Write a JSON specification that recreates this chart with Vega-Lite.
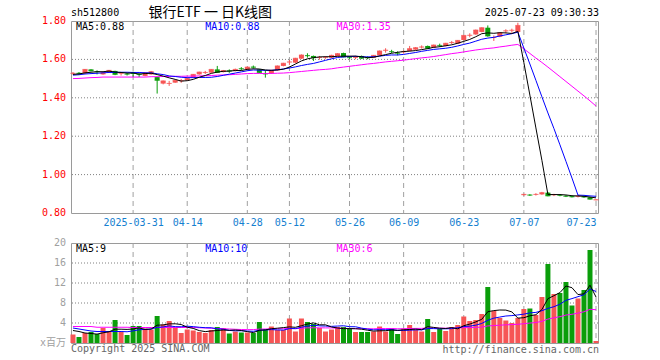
{
"$schema": "https://vega.github.io/schema/vega-lite/v6.json",
"padding": {"left": 39, "top": 5, "right": 0, "bottom": 0},
"background": "white",
"spacing": 9,
"config": {
 "view": {"stroke": "#9a9a9a", "strokeWidth": 1},
 "axis": {"domain": false, "ticks": false, "grid": false, "labelFont": "DejaVu Sans Mono", "labelFontSize": 10, "labelOverlap": false, "labelAngle": 0, "labelPadding": 4}
},
"datasets": {
"grid_dates": [{"d":"2025-03-31"},{"d":"2025-04-14"},{"d":"2025-04-28"},{"d":"2025-05-12"},{"d":"2025-05-26"},{"d":"2025-06-09"},{"d":"2025-06-23"},{"d":"2025-07-07"},{"d":"2025-07-23"}],
"price_ticks": [{"p":0.8,"g":0},{"p":1.0,"g":1},{"p":1.2,"g":1},{"p":1.4,"g":1},{"p":1.6,"g":1},{"p":1.8,"g":0}],
"vol_ticks": [{"p":0,"s":"x百万","g":0},{"p":4,"s":"4","g":1},{"p":8,"s":"8","g":1},{"p":12,"s":"12","g":1},{"p":16,"s":"16","g":1},{"p":20,"s":"20","g":0}],
"k": [
{"d":"2025-03-17","o":1.526,"h":1.534,"l":1.520,"c":1.528,"v":1.7,"m5":1.522,"m10":1.518,"m30":1.500,"w5":2.5,"w10":3.0,"w30":3.3},
{"d":"2025-03-18","o":1.530,"h":1.534,"l":1.522,"c":1.527,"v":1.2,"m5":1.524,"m10":1.520,"m30":1.501,"w5":2.3,"w10":2.8,"w30":3.3},
{"d":"2025-03-19","o":1.527,"h":1.550,"l":1.525,"c":1.548,"v":2.0,"m5":1.530,"m10":1.524,"m30":1.503,"w5":2.0,"w10":2.6,"w30":3.3},
{"d":"2025-03-20","o":1.548,"h":1.549,"l":1.538,"c":1.540,"v":2.2,"m5":1.533,"m10":1.526,"m30":1.505,"w5":1.9,"w10":2.4,"w30":3.3},
{"d":"2025-03-21","o":1.537,"h":1.543,"l":1.522,"c":1.535,"v":1.8,"m5":1.536,"m10":1.528,"m30":1.506,"w5":1.78,"w10":2.3,"w30":3.15},
{"d":"2025-03-24","o":1.522,"h":1.533,"l":1.520,"c":1.531,"v":3.0,"m5":1.536,"m10":1.530,"m30":1.508,"w5":2.04,"w10":2.3,"w30":3.15},
{"d":"2025-03-25","o":1.531,"h":1.545,"l":1.530,"c":1.543,"v":2.2,"m5":1.539,"m10":1.532,"m30":1.508,"w5":2.24,"w10":2.3,"w30":3.15},
{"d":"2025-03-26","o":1.540,"h":1.541,"l":1.518,"c":1.522,"v":4.6,"m5":1.534,"m10":1.532,"m30":1.508,"w5":2.76,"w10":2.3,"w30":3.15},
{"d":"2025-03-27","o":1.526,"h":1.534,"l":1.516,"c":1.528,"v":2.2,"m5":1.532,"m10":1.533,"m30":1.508,"w5":2.76,"w10":2.3,"w30":3.15},
{"d":"2025-03-28","o":1.526,"h":1.530,"l":1.516,"c":1.523,"v":1.6,"m5":1.529,"m10":1.533,"m30":1.508,"w5":2.72,"w10":2.25,"w30":3.15},
{"d":"2025-03-31","o":1.534,"h":1.536,"l":1.508,"c":1.527,"v":3.4,"m5":1.529,"m10":1.532,"m30":1.508,"w5":2.80,"w10":2.42,"w30":3.1},
{"d":"2025-04-01","o":1.524,"h":1.528,"l":1.508,"c":1.521,"v":3.4,"m5":1.524,"m10":1.532,"m30":1.508,"w5":3.04,"w10":2.64,"w30":3.1},
{"d":"2025-04-02","o":1.514,"h":1.533,"l":1.512,"c":1.531,"v":2.9,"m5":1.526,"m10":1.530,"m30":1.508,"w5":2.70,"w10":2.73,"w30":3.1},
{"d":"2025-04-03","o":1.522,"h":1.540,"l":1.520,"c":1.536,"v":2.7,"m5":1.528,"m10":1.530,"m30":1.510,"w5":2.80,"w10":2.78,"w30":3.1},
{"d":"2025-04-07","o":1.508,"h":1.510,"l":1.422,"c":1.491,"v":5.4,"m5":1.521,"m10":1.525,"m30":1.510,"w5":3.56,"w10":3.14,"w30":3.1},
{"d":"2025-04-08","o":1.474,"h":1.490,"l":1.470,"c":1.488,"v":3.7,"m5":1.513,"m10":1.521,"m30":1.511,"w5":3.62,"w10":3.21,"w30":3.1},
{"d":"2025-04-09","o":1.473,"h":1.488,"l":1.462,"c":1.475,"v":4.4,"m5":1.504,"m10":1.514,"m30":1.511,"w5":3.82,"w10":3.43,"w30":3.1},
{"d":"2025-04-10","o":1.479,"h":1.493,"l":1.478,"c":1.491,"v":3.0,"m5":1.496,"m10":1.511,"m30":1.512,"w5":3.84,"w10":3.27,"w30":3.1},
{"d":"2025-04-11","o":1.487,"h":1.498,"l":1.478,"c":1.489,"v":2.0,"m5":1.487,"m10":1.507,"m30":1.512,"w5":3.70,"w10":3.25,"w30":3.1},
{"d":"2025-04-14","o":1.491,"h":1.503,"l":1.490,"c":1.501,"v":2.7,"m5":1.489,"m10":1.505,"m30":1.513,"w5":3.16,"w10":3.36,"w30":3.1},
{"d":"2025-04-15","o":1.505,"h":1.524,"l":1.503,"c":1.522,"v":2.5,"m5":1.496,"m10":1.505,"m30":1.513,"w5":2.92,"w10":3.27,"w30":3.1},
{"d":"2025-04-16","o":1.522,"h":1.536,"l":1.520,"c":1.534,"v":2.2,"m5":1.507,"m10":1.506,"m30":1.514,"w5":2.48,"w10":3.15,"w30":3.05},
{"d":"2025-04-17","o":1.530,"h":1.540,"l":1.524,"c":1.532,"v":2.0,"m5":1.516,"m10":1.506,"m30":1.515,"w5":2.28,"w10":3.06,"w30":3.0},
{"d":"2025-04-18","o":1.531,"h":1.550,"l":1.530,"c":1.548,"v":2.6,"m5":1.527,"m10":1.507,"m30":1.516,"w5":2.40,"w10":3.05,"w30":2.95},
{"d":"2025-04-21","o":1.548,"h":1.566,"l":1.530,"c":1.532,"v":3.2,"m5":1.534,"m10":1.511,"m30":1.518,"w5":2.50,"w10":2.83,"w30":2.9},
{"d":"2025-04-22","o":1.534,"h":1.545,"l":1.532,"c":1.542,"v":3.0,"m5":1.538,"m10":1.517,"m30":1.519,"w5":2.60,"w10":2.76,"w30":2.85},
{"d":"2025-04-23","o":1.542,"h":1.548,"l":1.530,"c":1.539,"v":1.9,"m5":1.539,"m10":1.523,"m30":1.520,"w5":2.54,"w10":2.51,"w30":2.8},
{"d":"2025-04-24","o":1.540,"h":1.552,"l":1.537,"c":1.548,"v":2.3,"m5":1.542,"m10":1.529,"m30":1.522,"w5":2.60,"w10":2.44,"w30":2.75},
{"d":"2025-04-25","o":1.553,"h":1.560,"l":1.543,"c":1.551,"v":2.1,"m5":1.542,"m10":1.535,"m30":1.524,"w5":2.50,"w10":2.45,"w30":2.7},
{"d":"2025-04-28","o":1.548,"h":1.562,"l":1.546,"c":1.560,"v":2.1,"m5":1.548,"m10":1.541,"m30":1.526,"w5":2.28,"w10":2.39,"w30":2.67},
{"d":"2025-04-29","o":1.562,"h":1.568,"l":1.552,"c":1.559,"v":2.0,"m5":1.551,"m10":1.545,"m30":1.527,"w5":2.08,"w10":2.34,"w30":2.68},
{"d":"2025-04-30","o":1.548,"h":1.550,"l":1.528,"c":1.531,"v":4.2,"m5":1.550,"m10":1.544,"m30":1.527,"w5":2.54,"w10":2.54,"w30":2.78},
{"d":"2025-05-06","o":1.527,"h":1.543,"l":1.505,"c":1.524,"v":2.7,"m5":1.545,"m10":1.543,"m30":1.526,"w5":2.62,"w10":2.61,"w30":2.80},
{"d":"2025-05-07","o":1.527,"h":1.546,"l":1.525,"c":1.543,"v":3.3,"m5":1.543,"m10":1.543,"m30":1.527,"w5":2.86,"w10":2.68,"w30":2.84},
{"d":"2025-05-08","o":1.543,"h":1.568,"l":1.541,"c":1.566,"v":2.6,"m5":1.545,"m10":1.546,"m30":1.528,"w5":2.96,"w10":2.62,"w30":2.86},
{"d":"2025-05-09","o":1.566,"h":1.582,"l":1.564,"c":1.580,"v":2.6,"m5":1.549,"m10":1.550,"m30":1.529,"w5":3.08,"w10":2.58,"w30":2.85},
{"d":"2025-05-12","o":1.585,"h":1.597,"l":1.571,"c":1.587,"v":4.9,"m5":1.560,"m10":1.555,"m30":1.531,"w5":3.22,"w10":2.88,"w30":2.94},
{"d":"2025-05-13","o":1.583,"h":1.608,"l":1.580,"c":1.606,"v":2.3,"m5":1.576,"m10":1.561,"m30":1.534,"w5":3.14,"w10":2.88,"w30":2.86},
{"d":"2025-05-14","o":1.604,"h":1.626,"l":1.602,"c":1.623,"v":4.9,"m5":1.592,"m10":1.568,"m30":1.537,"w5":3.46,"w10":3.16,"w30":2.95},
{"d":"2025-05-15","o":1.622,"h":1.632,"l":1.609,"c":1.619,"v":4.2,"m5":1.603,"m10":1.574,"m30":1.540,"w5":3.78,"w10":3.37,"w30":3.04},
{"d":"2025-05-16","o":1.618,"h":1.620,"l":1.592,"c":1.609,"v":3.8,"m5":1.609,"m10":1.579,"m30":1.543,"w5":4.02,"w10":3.55,"w30":3.05},
{"d":"2025-05-19","o":1.608,"h":1.618,"l":1.599,"c":1.610,"v":3.0,"m5":1.613,"m10":1.587,"m30":1.546,"w5":3.64,"w10":3.43,"w30":3.04},
{"d":"2025-05-20","o":1.609,"h":1.617,"l":1.603,"c":1.611,"v":2.3,"m5":1.614,"m10":1.595,"m30":1.548,"w5":3.64,"w10":3.39,"w30":3.02},
{"d":"2025-05-21","o":1.609,"h":1.624,"l":1.607,"c":1.621,"v":2.7,"m5":1.614,"m10":1.603,"m30":1.551,"w5":3.20,"w10":3.33,"w30":3.02},
{"d":"2025-05-22","o":1.618,"h":1.632,"l":1.616,"c":1.630,"v":3.2,"m5":1.616,"m10":1.610,"m30":1.556,"w5":3.00,"w10":3.39,"w30":2.95},
{"d":"2025-05-23","o":1.633,"h":1.635,"l":1.611,"c":1.613,"v":3.2,"m5":1.617,"m10":1.613,"m30":1.560,"w5":2.88,"w10":3.45,"w30":2.93},
{"d":"2025-05-26","o":1.611,"h":1.618,"l":1.603,"c":1.609,"v":3.0,"m5":1.617,"m10":1.615,"m30":1.564,"w5":2.88,"w10":3.26,"w30":2.88},
{"d":"2025-05-27","o":1.608,"h":1.619,"l":1.601,"c":1.610,"v":2.2,"m5":1.617,"m10":1.616,"m30":1.568,"w5":2.86,"w10":3.25,"w30":2.86},
{"d":"2025-05-28","o":1.618,"h":1.620,"l":1.603,"c":1.606,"v":2.2,"m5":1.614,"m10":1.614,"m30":1.572,"w5":2.76,"w10":2.98,"w30":2.86},
{"d":"2025-05-29","o":1.610,"h":1.616,"l":1.601,"c":1.608,"v":2.2,"m5":1.609,"m10":1.613,"m30":1.576,"w5":2.56,"w10":2.78,"w30":2.85},
{"d":"2025-05-30","o":1.609,"h":1.623,"l":1.607,"c":1.621,"v":2.3,"m5":1.611,"m10":1.614,"m30":1.579,"w5":2.38,"w10":2.63,"w30":2.84},
{"d":"2025-06-03","o":1.621,"h":1.646,"l":1.619,"c":1.644,"v":3.3,"m5":1.618,"m10":1.617,"m30":1.583,"w5":2.44,"w10":2.66,"w30":2.88},
{"d":"2025-06-04","o":1.646,"h":1.658,"l":1.635,"c":1.648,"v":2.3,"m5":1.625,"m10":1.621,"m30":1.587,"w5":2.46,"w10":2.66,"w30":2.89},
{"d":"2025-06-05","o":1.642,"h":1.650,"l":1.632,"c":1.640,"v":2.9,"m5":1.632,"m10":1.623,"m30":1.590,"w5":2.60,"w10":2.68,"w30":2.90},
{"d":"2025-06-06","o":1.634,"h":1.642,"l":1.621,"c":1.632,"v":1.8,"m5":1.637,"m10":1.623,"m30":1.593,"w5":2.52,"w10":2.54,"w30":2.85},
{"d":"2025-06-09","o":1.638,"h":1.647,"l":1.630,"c":1.640,"v":2.9,"m5":1.641,"m10":1.626,"m30":1.596,"w5":2.64,"w10":2.51,"w30":2.85},
{"d":"2025-06-10","o":1.644,"h":1.670,"l":1.642,"c":1.656,"v":3.6,"m5":1.643,"m10":1.631,"m30":1.600,"w5":2.70,"w10":2.57,"w30":2.90},
{"d":"2025-06-11","o":1.651,"h":1.664,"l":1.649,"c":1.661,"v":2.7,"m5":1.646,"m10":1.636,"m30":1.604,"w5":2.78,"w10":2.62,"w30":2.92},
{"d":"2025-06-12","o":1.663,"h":1.673,"l":1.656,"c":1.665,"v":2.3,"m5":1.651,"m10":1.642,"m30":1.608,"w5":2.66,"w10":2.63,"w30":2.92},
{"d":"2025-06-13","o":1.670,"h":1.672,"l":1.655,"c":1.658,"v":4.8,"m5":1.656,"m10":1.647,"m30":1.611,"w5":3.26,"w10":2.89,"w30":3.01},
{"d":"2025-06-16","o":1.661,"h":1.677,"l":1.659,"c":1.675,"v":2.2,"m5":1.663,"m10":1.652,"m30":1.615,"w5":3.12,"w10":2.88,"w30":3.02},
{"d":"2025-06-17","o":1.675,"h":1.682,"l":1.665,"c":1.673,"v":2.8,"m5":1.666,"m10":1.655,"m30":1.620,"w5":2.96,"w10":2.83,"w30":2.97},
{"d":"2025-06-18","o":1.670,"h":1.686,"l":1.668,"c":1.684,"v":2.4,"m5":1.671,"m10":1.658,"m30":1.625,"w5":2.90,"w10":2.84,"w30":2.96},
{"d":"2025-06-19","o":1.686,"h":1.696,"l":1.679,"c":1.688,"v":3.2,"m5":1.676,"m10":1.663,"m30":1.630,"w5":3.08,"w10":2.87,"w30":2.96},
{"d":"2025-06-20","o":1.682,"h":1.701,"l":1.680,"c":1.699,"v":3.6,"m5":1.684,"m10":1.670,"m30":1.634,"w5":2.84,"w10":3.05,"w30":2.99},
{"d":"2025-06-23","o":1.701,"h":1.727,"l":1.699,"c":1.725,"v":5.3,"m5":1.694,"m10":1.678,"m30":1.639,"w5":3.46,"w10":3.29,"w30":3.08},
{"d":"2025-06-24","o":1.724,"h":1.736,"l":1.715,"c":1.726,"v":4.4,"m5":1.704,"m10":1.685,"m30":1.644,"w5":3.78,"w10":3.37,"w30":3.07},
{"d":"2025-06-25","o":1.730,"h":1.755,"l":1.728,"c":1.753,"v":4.6,"m5":1.718,"m10":1.695,"m30":1.649,"w5":4.22,"w10":3.56,"w30":3.14},
{"d":"2025-06-26","o":1.743,"h":1.767,"l":1.741,"c":1.765,"v":5.8,"m5":1.734,"m10":1.705,"m30":1.653,"w5":4.74,"w10":3.91,"w30":3.17},
{"d":"2025-06-27","o":1.765,"h":1.777,"l":1.718,"c":1.722,"v":11.2,"m5":1.738,"m10":1.711,"m30":1.657,"w5":6.26,"w10":4.55,"w30":3.41},
{"d":"2025-06-30","o":1.712,"h":1.725,"l":1.696,"c":1.714,"v":6.4,"m5":1.736,"m10":1.715,"m30":1.660,"w5":6.48,"w10":4.97,"w30":3.49},
{"d":"2025-07-01","o":1.718,"h":1.741,"l":1.716,"c":1.739,"v":5.0,"m5":1.739,"m10":1.722,"m30":1.665,"w5":6.60,"w10":5.19,"w30":3.56},
{"d":"2025-07-02","o":1.747,"h":1.757,"l":1.736,"c":1.749,"v":4.5,"m5":1.738,"m10":1.728,"m30":1.669,"w5":6.58,"w10":5.40,"w30":3.63},
{"d":"2025-07-03","o":1.750,"h":1.760,"l":1.739,"c":1.752,"v":4.0,"m5":1.735,"m10":1.734,"m30":1.674,"w5":6.22,"w10":5.48,"w30":3.68},
{"d":"2025-07-04","o":1.743,"h":1.791,"l":1.741,"c":1.777,"v":5.0,"m5":1.746,"m10":1.742,"m30":1.678,"w5":4.98,"w10":5.62,"w30":3.74},
{"d":"2025-07-07","o":0.893,"h":0.900,"l":0.890,"c":0.897,"v":6.8,"m5":1.583,"m10":1.659,"m30":1.655,"w5":5.06,"w10":5.77,"w30":3.86},
{"d":"2025-07-08","o":0.895,"h":0.898,"l":0.889,"c":0.893,"v":6.9,"m5":1.414,"m10":1.576,"m30":1.631,"w5":5.44,"w10":6.02,"w30":3.99},
{"d":"2025-07-09","o":0.895,"h":0.903,"l":0.891,"c":0.897,"v":5.6,"m5":1.243,"m10":1.491,"m30":1.607,"w5":5.66,"w10":6.12,"w30":4.10},
{"d":"2025-07-10","o":0.897,"h":0.910,"l":0.895,"c":0.906,"v":9.2,"m5":1.074,"m10":1.405,"m30":1.584,"w5":6.70,"w10":6.46,"w30":4.33},
{"d":"2025-07-11","o":0.906,"h":0.909,"l":0.887,"c":0.889,"v":15.8,"m5":0.896,"m10":1.321,"m30":1.560,"w5":8.86,"w10":6.92,"w30":4.79},
{"d":"2025-07-14","o":0.893,"h":0.900,"l":0.888,"c":0.896,"v":9.8,"m5":0.896,"m10":1.240,"m30":1.535,"w5":9.46,"w10":7.26,"w30":5.04},
{"d":"2025-07-15","o":0.894,"h":0.898,"l":0.887,"c":0.892,"v":10.0,"m5":0.896,"m10":1.155,"m30":1.510,"w5":10.08,"w10":7.76,"w30":5.26},
{"d":"2025-07-16","o":0.890,"h":0.893,"l":0.883,"c":0.887,"v":12.2,"m5":0.894,"m10":1.069,"m30":1.485,"w5":11.40,"w10":8.53,"w30":5.59},
{"d":"2025-07-17","o":0.888,"h":0.891,"l":0.881,"c":0.884,"v":7.5,"m5":0.890,"m10":0.982,"m30":1.460,"w5":11.06,"w10":8.88,"w30":5.74},
{"d":"2025-07-18","o":0.884,"h":0.891,"l":0.881,"c":0.888,"v":8.9,"m5":0.889,"m10":0.893,"m30":1.435,"w5":9.68,"w10":9.27,"w30":5.98},
{"d":"2025-07-21","o":0.887,"h":0.889,"l":0.879,"c":0.883,"v":10.6,"m5":0.887,"m10":0.892,"m30":1.410,"w5":9.84,"w10":9.65,"w30":6.24},
{"d":"2025-07-22","o":0.882,"h":0.884,"l":0.870,"c":0.872,"v":18.6,"m5":0.883,"m10":0.889,"m30":1.384,"w5":11.56,"w10":10.82,"w30":6.74},
{"d":"2025-07-23","o":0.867,"h":0.871,"l":0.866,"c":0.869,"v":0.4,"m5":0.879,"m10":0.887,"m30":1.357,"w5":9.20,"w10":10.30,"w30":6.66}
]},
"vconcat": [
{
 "width": 527, "height": 192,
 "data": {"name": "k"},
 "layer": [
  {"data": {"name": "grid_dates"}, "mark": {"type": "rule", "color": "#a0a0a0", "strokeWidth": 1, "strokeDash": [5, 4]},
   "encoding": {"x": {"field": "d", "type": "ordinal", "title": null, "scale": {"type": "point", "padding": 0.33},
     "axis": {"values": ["2025-03-31","2025-04-14","2025-04-28","2025-05-12","2025-05-26","2025-06-09","2025-06-23","2025-07-07","2025-07-23"],
       "labelExpr": "datum.value == '2025-03-31' ? datum.value : slice(datum.value, 5)",
       "labelColor": "#1580d0", "labelFlush": 5}}}},
  {"data": {"name": "price_ticks"}, "transform": [{"filter": "datum.g == 1"}], "mark": {"type": "rule", "color": "#808080", "strokeWidth": 1, "strokeDash": [1, 2]},
   "encoding": {"y": {"field": "p", "type": "quantitative", "axis": null, "scale": {"domain": [0.8, 1.8], "nice": false, "zero": false}}}},
  {"data": {"name": "price_ticks"}, "mark": {"type": "text", "align": "right", "baseline": "middle", "dx": -7, "font": "DejaVu Sans Mono", "fontSize": 10, "color": "#ff0000"},
   "encoding": {"x": {"datum": "2025-03-17", "type": "ordinal"}, "y": {"field": "p", "type": "quantitative", "axis": null}, "text": {"field": "p", "type": "quantitative", "format": ".2f"}}},
  {"mark": {"type": "rule", "strokeWidth": 1},
   "encoding": {
    "x": {"field": "d", "type": "ordinal", "title": null},
    "y": {"field": "l", "type": "quantitative", "axis": null},
    "y2": {"field": "h"},
    "color": {"condition": {"test": "datum.c >= datum.o", "value": "#f65555"}, "value": "#0a9e0a"}}},
  {"mark": {"type": "bar", "size": 5},
   "encoding": {"x": {"field": "d", "type": "ordinal", "title": null}, "y": {"field": "o", "type": "quantitative", "axis": null}, "y2": {"field": "c"},
    "color": {"condition": {"test": "datum.c >= datum.o", "value": "#f65555"}, "value": "#0a9e0a"}}},
  {"mark": {"type": "tick", "size": 5, "thickness": 1},
   "encoding": {"x": {"field": "d", "type": "ordinal", "title": null}, "y": {"field": "c", "type": "quantitative", "axis": null},
    "color": {"condition": {"test": "datum.c >= datum.o", "value": "#f65555"}, "value": "#0a9e0a"}}},
  {"mark": {"type": "line", "color": "#ff00ff", "strokeWidth": 1}, "encoding": {"x": {"field": "d", "type": "ordinal", "title": null}, "y": {"field": "m30", "type": "quantitative", "axis": null}}},
  {"mark": {"type": "line", "color": "#0000ff", "strokeWidth": 1}, "encoding": {"x": {"field": "d", "type": "ordinal", "title": null}, "y": {"field": "m10", "type": "quantitative", "axis": null}}},
  {"mark": {"type": "line", "color": "#000000", "strokeWidth": 1}, "encoding": {"x": {"field": "d", "type": "ordinal", "title": null}, "y": {"field": "m5", "type": "quantitative", "axis": null}}},
  {"data": {"values": [{}]}, "mark": {"type": "text", "align": "left", "baseline": "middle", "dx": 3, "dy": 6, "font": "DejaVu Sans Mono", "fontSize": 10, "color": "#000000"},
   "encoding": {"x": {"datum": "2025-03-17", "type": "ordinal"}, "y": {"datum": 1.8, "type": "quantitative", "axis": null}, "text": {"value": "MA5:0.88"}}},
  {"data": {"values": [{}]}, "mark": {"type": "text", "align": "left", "baseline": "middle", "dx": 0, "dy": 6, "font": "DejaVu Sans Mono", "fontSize": 10, "color": "#0000ff"},
   "encoding": {"x": {"datum": "2025-04-17", "type": "ordinal"}, "y": {"datum": 1.8, "type": "quantitative", "axis": null}, "text": {"value": "MA10:0.88"}}},
  {"data": {"values": [{}]}, "mark": {"type": "text", "align": "left", "baseline": "middle", "dx": -1, "dy": 6, "font": "DejaVu Sans Mono", "fontSize": 10, "color": "#ff00ff"},
   "encoding": {"x": {"datum": "2025-05-22", "type": "ordinal"}, "y": {"datum": 1.8, "type": "quantitative", "axis": null}, "text": {"value": "MA30:1.35"}}},
  {"data": {"values": [{}]}, "mark": {"type": "text", "align": "left", "baseline": "middle", "dx": -2, "dy": -8, "font": "DejaVu Sans Mono", "fontSize": 10, "color": "#000000"},
   "encoding": {"x": {"datum": "2025-03-17", "type": "ordinal"}, "y": {"datum": 1.8, "type": "quantitative", "axis": null}, "text": {"value": "sh512800"}}},
  {"data": {"values": [{}]}, "mark": {"type": "text", "align": "center", "baseline": "middle", "dx": -1, "dy": -8, "font": "Noto Sans CJK SC", "fontSize": 14, "color": "#000000"},
   "encoding": {"x": {"datum": "2025-04-18", "type": "ordinal"}, "y": {"datum": 1.8, "type": "quantitative", "axis": null}, "text": {"value": "银行ETF 一  日K线图"}}},
  {"data": {"values": [{}]}, "mark": {"type": "text", "align": "right", "baseline": "middle", "dx": 3, "dy": -8, "font": "DejaVu Sans Mono", "fontSize": 10, "color": "#000000"},
   "encoding": {"x": {"datum": "2025-07-23", "type": "ordinal"}, "y": {"datum": 1.8, "type": "quantitative", "axis": null}, "text": {"value": "2025-07-23 09:30:33"}}}
 ]
},
{
 "width": 527, "height": 100,
 "data": {"name": "k"},
 "layer": [
  {"data": {"name": "grid_dates"}, "mark": {"type": "rule", "color": "#a0a0a0", "strokeWidth": 1, "strokeDash": [5, 4]},
   "encoding": {"x": {"field": "d", "type": "ordinal", "title": null, "axis": null, "scale": {"type": "point", "padding": 0.33}}}},
  {"data": {"name": "vol_ticks"}, "transform": [{"filter": "datum.g == 1"}], "mark": {"type": "rule", "color": "#808080", "strokeWidth": 1, "strokeDash": [1, 2]},
   "encoding": {"y": {"field": "p", "type": "quantitative", "axis": null, "scale": {"domain": [0, 20], "nice": false}}}},
  {"data": {"name": "vol_ticks"}, "mark": {"type": "text", "align": "right", "baseline": "middle", "dx": -7, "font": "DejaVu Sans Mono, Noto Sans CJK SC", "fontSize": 10, "color": "#a0a0a0"},
   "encoding": {"x": {"datum": "2025-03-17", "type": "ordinal", "axis": null}, "y": {"field": "p", "type": "quantitative", "axis": null}, "text": {"field": "s"}}},
  {"mark": {"type": "bar", "size": 5},
   "encoding": {
    "x": {"field": "d", "type": "ordinal", "axis": null},
    "y": {"field": "v", "type": "quantitative", "axis": null},
    "color": {"condition": {"test": "datum.c >= datum.o", "value": "#f65555"}, "value": "#0a9e0a"}}},
  {"mark": {"type": "line", "color": "#ff00ff", "strokeWidth": 1}, "encoding": {"x": {"field": "d", "type": "ordinal", "axis": null}, "y": {"field": "w30", "type": "quantitative", "axis": null}}},
  {"mark": {"type": "line", "color": "#0000ff", "strokeWidth": 1}, "encoding": {"x": {"field": "d", "type": "ordinal", "axis": null}, "y": {"field": "w10", "type": "quantitative", "axis": null}}},
  {"mark": {"type": "line", "color": "#000000", "strokeWidth": 1}, "encoding": {"x": {"field": "d", "type": "ordinal", "axis": null}, "y": {"field": "w5", "type": "quantitative", "axis": null}}},
  {"data": {"values": [{}]}, "mark": {"type": "text", "align": "left", "baseline": "middle", "dx": 3, "dy": 6, "font": "DejaVu Sans Mono", "fontSize": 10, "color": "#000000"},
   "encoding": {"x": {"datum": "2025-03-17", "type": "ordinal", "axis": null}, "y": {"datum": 20, "type": "quantitative", "axis": null}, "text": {"value": "MA5:9"}}},
  {"data": {"values": [{}]}, "mark": {"type": "text", "align": "left", "baseline": "middle", "dx": 0, "dy": 6, "font": "DejaVu Sans Mono", "fontSize": 10, "color": "#0000ff"},
   "encoding": {"x": {"datum": "2025-04-17", "type": "ordinal", "axis": null}, "y": {"datum": 20, "type": "quantitative", "axis": null}, "text": {"value": "MA10:10"}}},
  {"data": {"values": [{}]}, "mark": {"type": "text", "align": "left", "baseline": "middle", "dx": -1, "dy": 6, "font": "DejaVu Sans Mono", "fontSize": 10, "color": "#ff00ff"},
   "encoding": {"x": {"datum": "2025-05-22", "type": "ordinal", "axis": null}, "y": {"datum": 20, "type": "quantitative", "axis": null}, "text": {"value": "MA30:6"}}},
  {"data": {"values": [{}]}, "mark": {"type": "text", "align": "left", "baseline": "middle", "dx": -2, "dy": 6, "font": "DejaVu Sans Mono", "fontSize": 10, "color": "#666666"},
   "encoding": {"x": {"datum": "2025-03-17", "type": "ordinal", "axis": null}, "y": {"datum": 0, "type": "quantitative", "axis": null}, "text": {"value": "Copyright 2025 SINA.COM"}}},
  {"data": {"values": [{}]}, "mark": {"type": "text", "align": "right", "baseline": "middle", "dx": 3, "dy": 7, "font": "DejaVu Sans Mono", "fontSize": 10, "color": "#666666"},
   "encoding": {"x": {"datum": "2025-07-23", "type": "ordinal", "axis": null}, "y": {"datum": 0, "type": "quantitative", "axis": null}, "text": {"value": "http://finance.sina.com.cn"}}}
 ]
}
]
}
